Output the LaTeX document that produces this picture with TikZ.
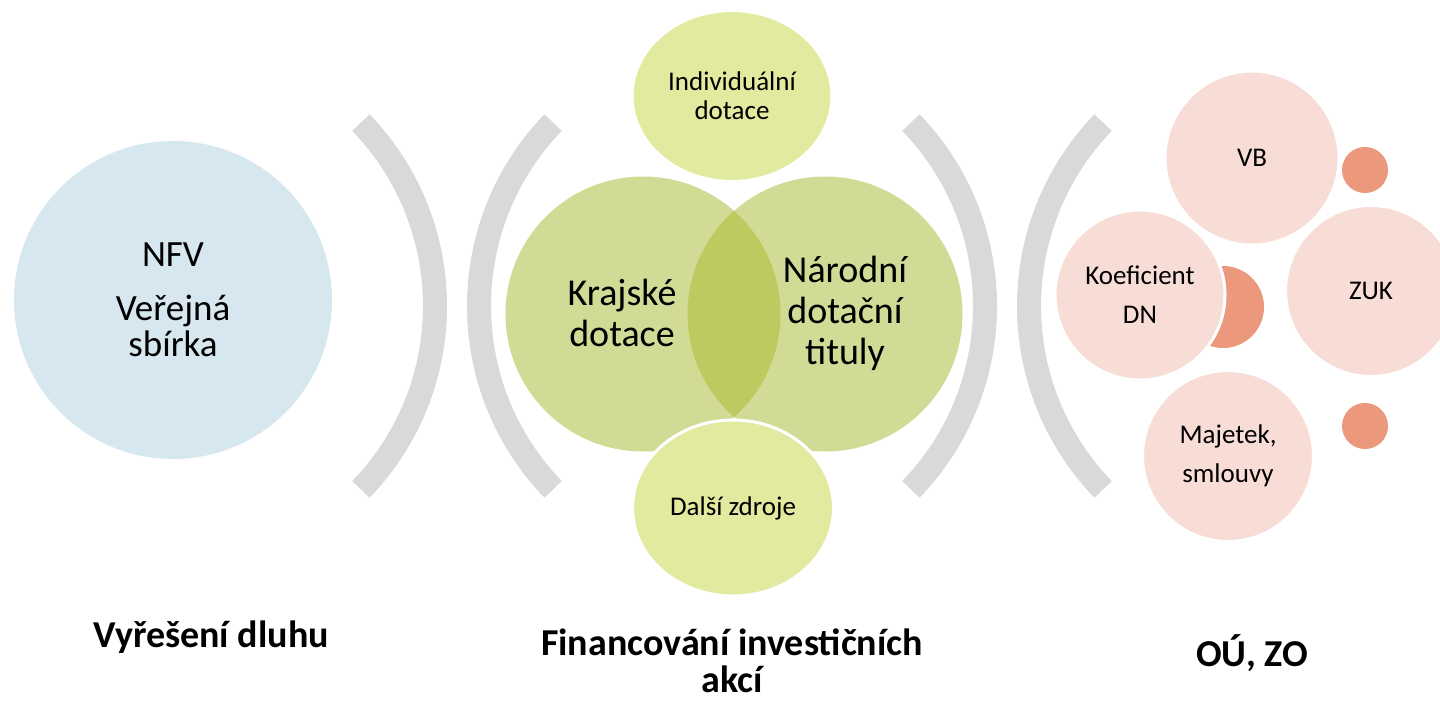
\documentclass[tikz,border=0pt]{standalone}
\usepackage{fontspec}
\setmainfont{Carlito}
\usetikzlibrary{positioning,shapes.geometric}
\definecolor{bluefill}{RGB}{215,231,240}
\definecolor{greenlight}{RGB}{226,234,160}
\definecolor{greenmid}{RGB}{210,219,149}
\definecolor{greendark}{RGB}{190,201,95}
\definecolor{pinkfill}{RGB}{248,221,214}
\definecolor{salmon}{RGB}{235,152,124}
\definecolor{bracketgray}{RGB}{217,217,217}
\tikzset{
bubble/.style={circle, inner sep=0pt, align=center}, % plain round shape
blob/.style={ellipse, draw=white, line width=1.5pt, inner sep=0pt, fill=greenlight, align=center, font=\fontsize{13.5}{14.5}\selectfont},
petal/.style={circle, draw=white, line width=1.5pt, fill=pinkfill, inner sep=0pt, align=center, font=\fontsize{13.5}{19.5}\selectfont},
dot/.style={circle, fill=salmon, inner sep=0pt},
bracket/.style={draw=bracketgray, line width=12pt},
bigtext/.style={align=center, font=\fontsize{19}{20.5}\selectfont},
caption/.style={align=center, font=\bfseries\fontsize{19}{18.5}\selectfont}
}

\begin{document}
\begin{tikzpicture}[x=0.5pt,y=-0.5pt]
   \fill[white] (0,0) rectangle (1440,702);
   \useasboundingbox (0,0) rectangle (1440,702);
   % left group
   \node[bubble, fill=bluefill, minimum size=159pt, font=\fontsize{18.5}{18}\selectfont] (nfv) at (173,300) {NFV\\[9pt]Veřejná\\sbírka};
   % brackets
   \coordinate (b_1) at (171,306);
   \coordinate (b_2) at (743,306);
   \coordinate (b_3) at (721,306);
   \coordinate (b_4) at (1293,306);
   \draw[bracket] (b_1) ++(-44:132pt) arc[start angle=-44, end angle=44, radius=132pt];
   \draw[bracket] (b_2) ++(136:132pt) arc[start angle=136, end angle=224, radius=132pt];
   \draw[bracket] (b_3) ++(-44:132pt) arc[start angle=-44, end angle=44, radius=132pt];
   \draw[bracket] (b_4) ++(136:132pt) arc[start angle=136, end angle=224, radius=132pt];
   % venn
   \node[bubble, fill=greenmid, minimum size=137.5pt] (kraj) at (643,314) {};
   \node[bubble, fill=greenmid, minimum size=137.5pt] (narod) at (825,314) {};
   \begin{scope}
     \clip (kraj.center) circle [radius=68.75pt];
     \fill[greendark] (narod.center) circle [radius=68.75pt];
   \end{scope}
   \node[bigtext] (kraj_t) at (622,313) {Krajské\\dotace};
   \node[bigtext] (narod_t) at (845,313) {Národní\\dotační\\tituly};
   \node[blob, minimum width=100pt, minimum height=85.5pt] (indiv) at (732,96) {Individuální\\dotace};
   \node[blob, minimum width=100.5pt, minimum height=88pt] (dalsi) at (733,508) {Další zdroje};
   % right group
   \node[dot, minimum size=41pt] (half) at (1223,307) {};
   \node[dot, minimum size=23pt] (dot_1) at (1365,170) {};
   \node[dot, minimum size=23pt] (dot_2) at (1365,426) {};
   \node[petal, minimum size=87pt] (vb) at (1252,158) {VB};
   \node[petal, minimum size=85.5pt] (zuk) at (1371,291) {ZUK};
   \node[petal, minimum size=85pt] (koef) at (1140,295) {Koeficient\\DN};
   \node[petal, minimum size=85.5pt] (majetek) at (1228,456) {Majetek,\\smlouvy};
   % captions
   \node[caption, anchor=base] (dluh) at (211,647) {Vyřešení dluhu};
   \node[caption, anchor=base] (invest) at (732,692) {Financování investičních\\akcí};
   \node[caption, anchor=base] (ou) at (1252,666) {OÚ, ZO};
\end{tikzpicture}
\end{document}
